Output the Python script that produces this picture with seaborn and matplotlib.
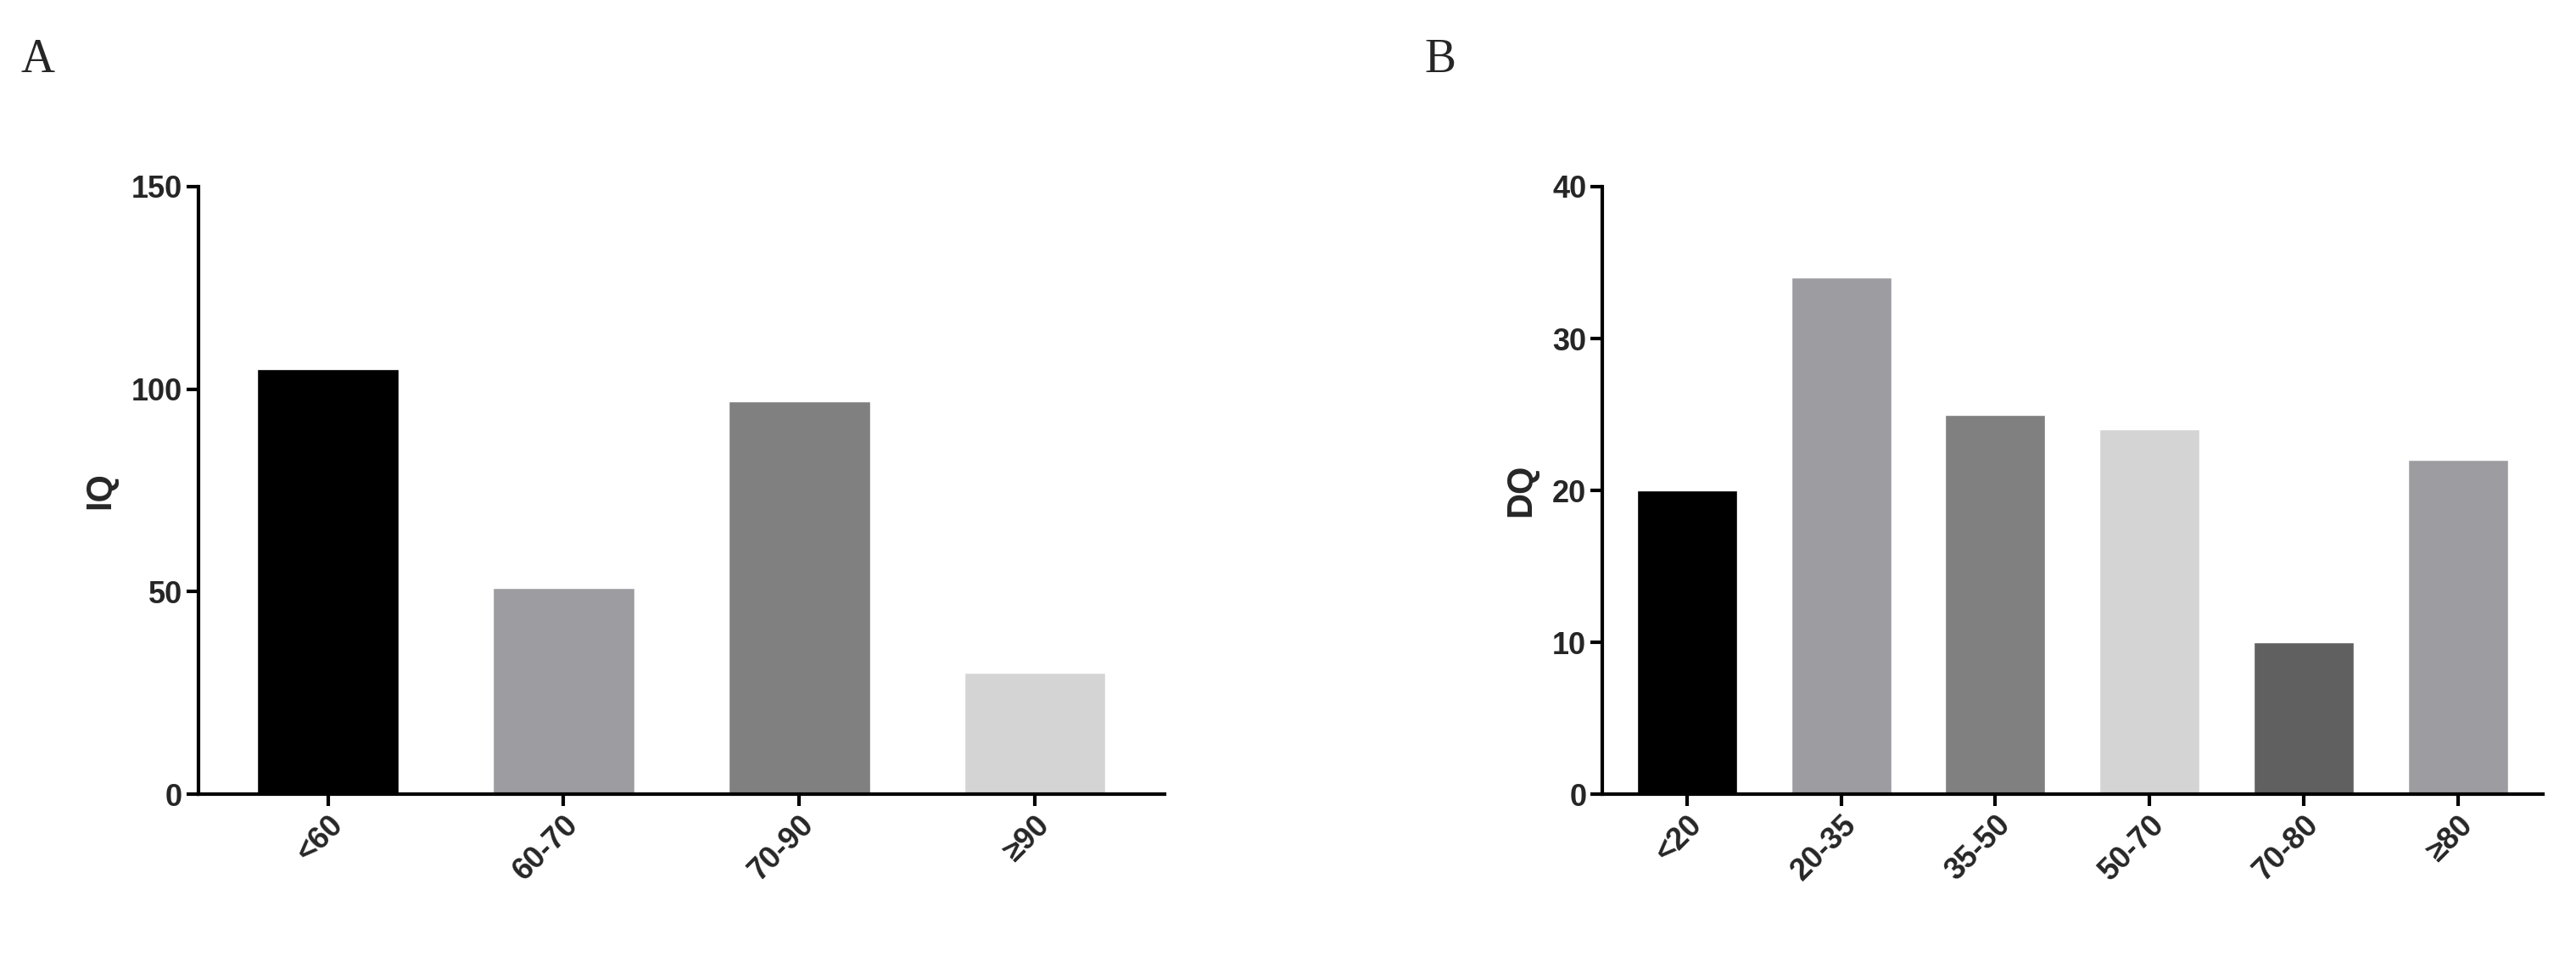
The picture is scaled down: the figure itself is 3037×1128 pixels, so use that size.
import matplotlib
matplotlib.use("Agg")
import matplotlib.pyplot as plt
import seaborn as sns
import pandas as pd

iq_cats = ["<60", "60-70", "70-90", "≥90"]
iq_vals = [105, 51, 97, 30]
iq_colors = ["#000000", "#9d9ca1", "#808080", "#d4d4d4"]

dq_cats = ["<20", "20-35", "35-50", "50-70", "70-80", "≥80"]
dq_vals = [20, 34, 25, 24, 10, 22]
dq_colors = ["#000000", "#9d9ca1", "#808080", "#d4d4d4", "#606060", "#9d9ca1"]

sns.set_theme(style="white")
plt.rcParams['font.family'] = ['Liberation Sans', 'DejaVu Sans']

fig = plt.figure(figsize=(30.37, 11.28), dpi=100)
axA = fig.add_axes([0.077, 0.17, 0.375, 0.635])
axB = fig.add_axes([0.622, 0.17, 0.365, 0.635])

def draw(ax, cats, vals, colors, ylabel, ymax, step, width):
    df = pd.DataFrame({"cat": cats, "val": vals})
    sns.barplot(data=df, x="cat", y="val", hue="cat", palette=colors, legend=False,
                ax=ax, width=width, saturation=1)
    ax.set_ylim(0, ymax)
    ax.set_yticks(range(0, ymax + 1, step))
    ax.set_xlim(-0.55, len(cats) - 0.45)
    ax.set_xlabel("")
    ax.set_ylabel(ylabel, fontsize=30, fontweight="bold", labelpad=12)
    for s in ["top", "right"]:
        ax.spines[s].set_visible(False)
    for s in ["left", "bottom"]:
        ax.spines[s].set_color("black")
        ax.spines[s].set_linewidth(3)
    ax.tick_params(axis="both", length=10, width=3, color="black", labelsize=26, left=True, bottom=True)
    for lab in ax.get_xticklabels() + ax.get_yticklabels():
        lab.set_fontweight("bold")
    for lab in ax.get_xticklabels():
        lab.set_rotation(45)
        lab.set_ha("right")
        lab.set_rotation_mode("anchor")

draw(axA, iq_cats, iq_vals, iq_colors, "IQ", 150, 50, 0.6)
draw(axB, dq_cats, dq_vals, dq_colors, "DQ", 40, 10, 0.65)

fig.text(0.008, 0.925, "A", fontsize=40, family="Liberation Serif")
fig.text(0.553, 0.925, "B", fontsize=40, family="Liberation Serif")

fig.savefig("out.png", dpi=100, facecolor="white")
